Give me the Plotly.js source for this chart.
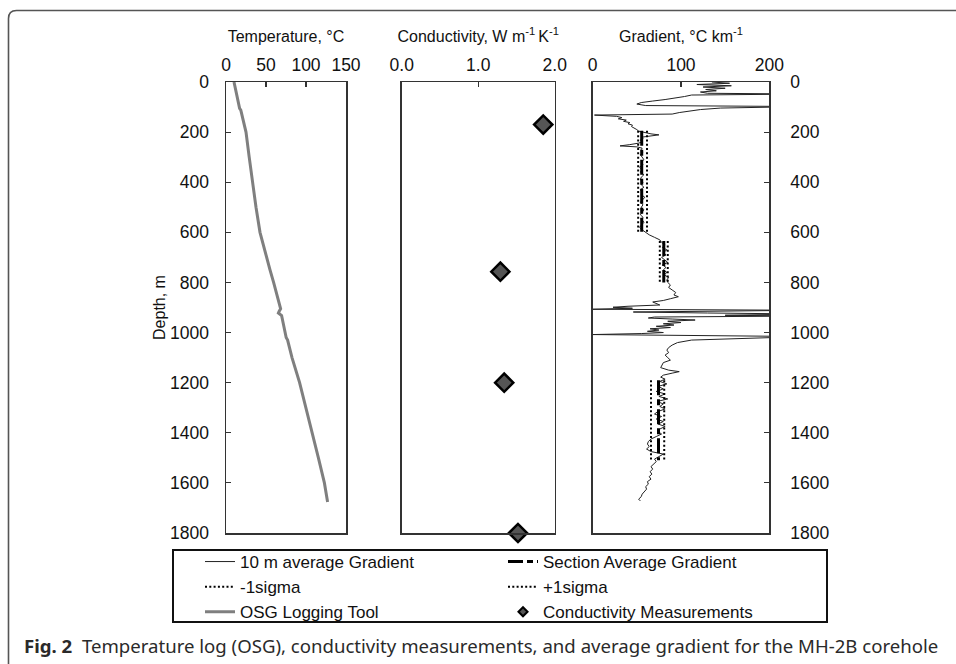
<!DOCTYPE html>
<html>
<head>
<meta charset="utf-8">
<script src="https://cdn.plot.ly/plotly-3.0.1.min.js"></script>
<style>html,body{margin:0;padding:0;background:#fff;}#chart{width:956px;height:664px;}</style>
</head>
<body>
<div id="chart"></div>
<script>
// ---- Temperature log (OSG) ----
const tempDepth = [0, 30, 60, 100, 105, 112, 150, 200, 300, 400, 500, 600, 650, 700, 750, 800, 850, 900, 905, 915, 922, 932, 960, 1000, 1012, 1020, 1030, 1100, 1200, 1300, 1400, 1500, 1600, 1676];
const tempValue = [10, 12, 14, 16.5, 17, 18.5, 21, 25, 29, 33, 37.5, 42.5, 46.5, 51, 55, 59.5, 64, 68, 68.3, 66.5, 65.5, 69.5, 71.5, 74.5, 75, 75.2, 77, 82.5, 92, 100, 108.3, 115.5, 123, 127];

// ---- Conductivity measurements ----
const condDepth = [170, 757, 1200, 1800];
const condValue = [1.85, 1.29, 1.34, 1.52];

// ---- 10 m average gradient ----
const gradDepth = [0, 5, 10, 15, 20, 25, 30, 35, 40, 45, 48, 52, 58, 64, 70, 76, 82, 88, 94, 98, 104, 110, 116, 122, 128, 132, 137, 142, 147, 152, 157, 162, 167, 172, 178, 184, 190, 196, 202, 207, 211, 215, 220, 226, 232, 238, 244, 250, 255, 259, 264, 270, 280, 290, 300, 310, 320, 330, 340, 350, 360, 370, 380, 390, 400, 410, 420, 430, 440, 450, 460, 470, 480, 490, 500, 510, 520, 530, 540, 550, 560, 570, 580, 590, 600, 610, 620, 630, 640, 650, 660, 670, 680, 690, 700, 710, 720, 730, 740, 750, 760, 770, 780, 790, 800, 810, 820, 830, 840, 850, 857, 865, 872, 878, 885, 890, 895, 899, 903, 907, 911, 918, 922, 926, 931, 934, 938, 942, 946, 950, 955, 960, 965, 970, 975, 980, 985, 990, 995, 1000, 1004, 1008, 1016, 1030, 1040, 1050, 1060, 1070, 1080, 1090, 1100, 1110, 1120, 1130, 1140, 1150, 1156, 1162, 1170, 1178, 1186, 1195, 1205, 1215, 1225, 1235, 1245, 1255, 1265, 1275, 1285, 1295, 1305, 1315, 1325, 1335, 1345, 1355, 1365, 1375, 1385, 1395, 1405, 1415, 1425, 1435, 1445, 1455, 1465, 1475, 1485, 1495, 1505, 1515, 1525, 1535, 1545, 1555, 1565, 1575, 1585, 1595, 1605, 1615, 1625, 1635, 1645, 1655, 1665, 1672];
const gradValue = [135, 155, 118, 157, 125, 150, 128, 140, 122, 130, 240, 112, 104, 95, 82, 68, 55, 50, 60, 240, 145, 122, 108, 98, 90, 2, 27, 33, 29, 38, 35, 42, 40, 45, 44, 48, 50, 52, 58, 66, 75, 64, 56, 57, 54, 57, 52, 42, 31, 50, 56, 55, 57, 54, 56, 58, 55, 57, 53, 56, 54, 58, 55, 54, 57, 55, 58, 54, 56, 55, 59, 56, 54, 57, 55, 58, 56, 54, 57, 56, 58, 55, 53, 56, 60, 64, 70, 76, 78, 82, 79, 84, 80, 83, 78, 82, 85, 79, 83, 80, 84, 81, 86, 84, 85, 88, 86, 90, 94, 92, 97, 88, 80, 68, 72, 76, 40, 23, 45, 0, 240, 46, 130, 240, 150, 240, 70, 63, 90, 116, 85, 100, 80, 92, 72, 88, 65, 75, 62, 80, 55, 0, 240, 112, 96, 90, 86, 84, 86, 82, 85, 88, 80, 78, 77, 86, 98, 90, 80, 77, 82, 76, 84, 74, 80, 72, 82, 75, 85, 73, 80, 76, 82, 74, 70, 78, 72, 80, 74, 82, 76, 74, 78, 72, 66, 63, 62, 64, 61, 66, 80, 75, 70, 72, 69, 66, 68, 65, 67, 64, 66, 62, 63, 60, 61, 58, 56, 55, 52, 54];

// ---- Section averages and +/- 1 sigma ----
const sectionTop = [195, 635, 1190];
const sectionBottom = [598, 800, 1510];
const sectionAvg = [55.5, 80.5, 74.5];
const sectionMinus = [51.5, 76, 66];
const sectionPlus = [61.5, 85, 81];

// ---- Tick labels ----
const depthTicks = [0, 200, 400, 600, 800, 1000, 1200, 1400, 1600, 1800];
const tempTicks = [0, 50, 100, 150];
const condTicks = [0, 1, 2];
const gradTicks = [0, 100, 200];

function segs(vals) {
  const x = [], y = [];
  vals.forEach((v, i) => { x.push(v, v, null); y.push(sectionTop[i], sectionBottom[i], null); });
  return {x, y};
}
const sAvg = segs(sectionAvg), sMin = segs(sectionMinus), sPlus = segs(sectionPlus);

const FONT = 'Liberation Sans, Arial, sans-serif';
const traces = [
  {x: gradValue, y: gradDepth, xaxis: 'x3', yaxis: 'y3', type: 'scatter', mode: 'lines',
   name: '10 m average Gradient', line: {color: '#222', width: 1}},
  {x: sAvg.x, y: sAvg.y, xaxis: 'x3', yaxis: 'y3', type: 'scatter', mode: 'lines', connectgaps: false,
   name: 'Section Average Gradient', line: {color: '#000', width: 3, dash: '15px,4px,6px,4px'}},
  {x: sMin.x, y: sMin.y, xaxis: 'x3', yaxis: 'y3', type: 'scatter', mode: 'lines', connectgaps: false,
   name: '-1sigma', line: {color: '#000', width: 2, dash: '2px,2.3px'}},
  {x: sPlus.x, y: sPlus.y, xaxis: 'x3', yaxis: 'y3', type: 'scatter', mode: 'lines', connectgaps: false,
   name: '+1sigma', line: {color: '#000', width: 2, dash: '2px,2.3px'}},
  {x: tempValue, y: tempDepth, xaxis: 'x', yaxis: 'y', type: 'scatter', mode: 'lines',
   name: 'OSG Logging Tool', line: {color: '#7f7f7f', width: 3}},
  {x: [null], y: [null], xaxis: 'x2', yaxis: 'y2', type: 'scatter', mode: 'markers',
   name: 'Conductivity Measurements', marker: {symbol: 'diamond', size: 7, color: '#555', line: {color: '#000', width: 2}}},
  {x: condValue, y: condDepth, xaxis: 'x2', yaxis: 'y2', type: 'scatter', mode: 'markers', cliponaxis: false,
   showlegend: false, name: 'Conductivity', marker: {symbol: 'diamond', size: 14, color: '#555', line: {color: '#000', width: 2.5}}}
];

const W = 700, H = 451, L = 150, T = 82;
const px = v => (v - L) / W;
const py = v => (T + H - v) / H;

const common = {showgrid: false, zeroline: false, showline: true, mirror: true, linecolor: '#333', linewidth: 1.5,
  ticks: 'inside', ticklen: 5, tickcolor: '#333', tickwidth: 1.2, tickfont: {family: FONT, size: 17.5, color: '#111'}};
const xt = (dom, anchor, range, ticks, fmt, title) => Object.assign({}, common, {
  domain: dom, anchor: anchor, side: 'top', range: range, tickmode: 'array', tickvals: ticks, tickformat: fmt,
  ticklabelstandoff: 3, automargin: true,
  title: {text: title, font: {family: FONT, size: 16, color: '#111'}, standoff: 8}});

const layout = {
  width: 956, height: 664,
  margin: {l: L, r: 956 - L - W, t: T, b: 664 - T - H, autoexpand: false},
  paper_bgcolor: '#fff', plot_bgcolor: '#fff',
  showlegend: true,
  xaxis: xt([px(226), px(346)], 'y', [0, 150], tempTicks, 'd', 'Temperature, °C'),
  xaxis2: xt([px(401.7), px(554.7)], 'y2', [0, 2], condTicks, '.1f', 'Conductivity, W m<sup>-1 </sup>K<sup>-1</sup>'),
  xaxis3: xt([px(592.7), px(769.3)], 'y3', [0, 200], gradTicks, 'd', 'Gradient, °C km<sup>-1</sup>'),
  yaxis: Object.assign({}, common, {domain: [0, 1], anchor: 'x', range: [1800, 0], tickmode: 'array', tickvals: depthTicks,
    ticklabelstandoff: 12, automargin: true,
    title: {text: 'Depth, m', font: {family: FONT, size: 16, color: '#111'}, standoff: 0}}),
  yaxis2: Object.assign({}, common, {domain: [0, 1], anchor: 'x2', range: [1800, 0], ticks: '', showticklabels: false}),
  yaxis3: Object.assign({}, common, {domain: [0, 1], anchor: 'x3', side: 'right', range: [1800, 0], tickmode: 'array',
    tickvals: depthTicks, ticklabelstandoff: 16}),
  legend: {orientation: 'h', x: px(200), y: py(544), xanchor: 'left', yanchor: 'top',
    entrywidth: 258, entrywidthmode: 'pixels', borderwidth: 0, bgcolor: 'rgba(0,0,0,0)',
    font: {family: FONT, size: 17, color: '#111'}, traceorder: 'normal'},
  shapes: [
    {type: 'rect', xref: 'paper', yref: 'paper', x0: px(173), x1: px(827), y0: py(550), y1: py(622),
     line: {color: '#111', width: 2}},
    {type: 'path', xref: 'paper', yref: 'paper',
     path: 'M ' + px(8.5) + ',' + py(680) + ' L ' + px(8.5) + ',' + py(18.5) + ' Q ' + px(8.5) + ',' + py(10.5) + ' ' + px(16.5) + ',' + py(10.5) + ' L ' + px(970) + ',' + py(10.5),
     line: {color: '#555', width: 1.6}}
  ],
  annotations: [
    {xref: 'paper', yref: 'paper', x: px(22), y: py(645), xanchor: 'left', yanchor: 'middle', showarrow: false,
     text: '<b>Fig. 2</b>  Temperature log (OSG), conductivity measurements, and average gradient for the MH-2B corehole',
     font: {family: 'Noto Sans, Open Sans, sans-serif', size: 18.6, color: '#2a2a2a'}}
  ]
};

Plotly.newPlot('chart', traces, layout, {staticPlot: true, displayModeBar: false});
</script>
</body>
</html>
